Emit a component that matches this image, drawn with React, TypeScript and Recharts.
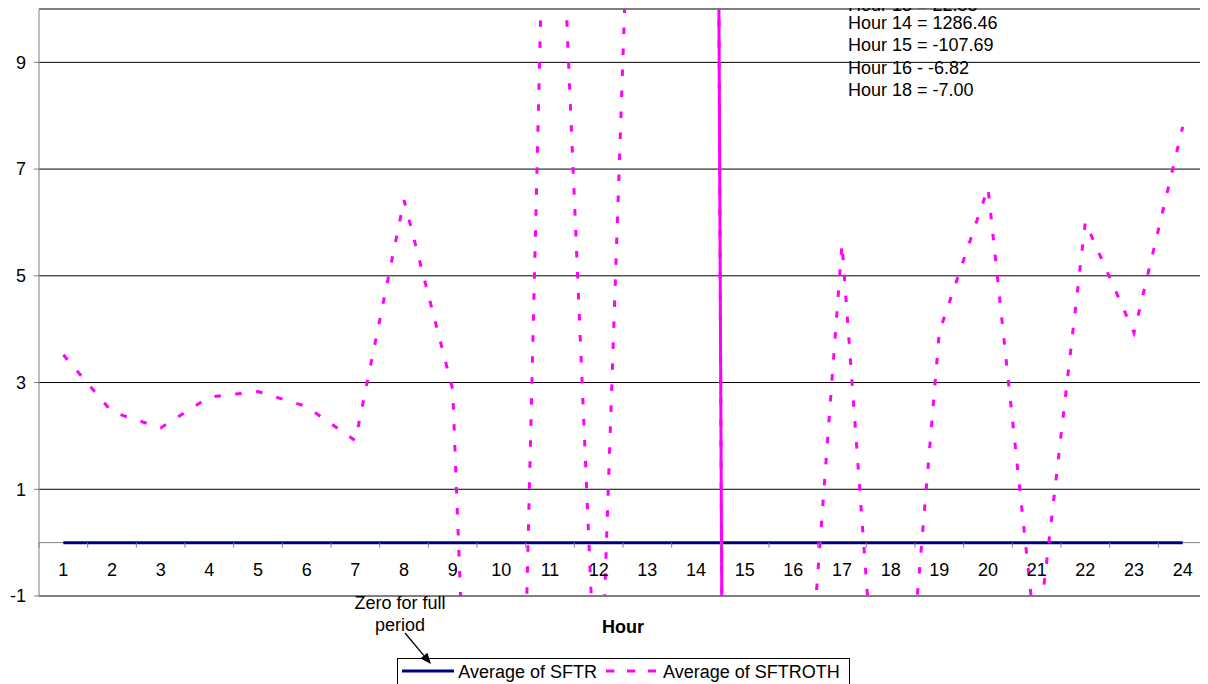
import React from 'react';
import { LineChart, Line, XAxis, YAxis, CartesianGrid, ReferenceLine, Legend } from 'recharts';

// ---------- data ----------
const HOURS = [1, 2, 3, 4, 5, 6, 7, 8, 9, 10, 11, 12, 13, 14, 15, 16, 17, 18, 19, 20, 21, 22, 23, 24];
const SFTR = [0, 0, 0, 0, 0, 0, 0, 0, 0, 0, 0, 0, 0, 0, 0, 0, 0, 0, 0, 0, 0, 0, 0, 0];
const SFTROTH = [
  3.52, 2.45, 2.15, 2.73, 2.83, 2.55, 1.91, 6.42, 2.87, -21.0, 17.2, -4.3,
  22.55, 1286.46, -107.69, -6.82, 5.6, -7.0, 3.95, 6.65, -2.0, 6.01, 3.93, 7.79,
];
const SOLID_HOURS = [14, 15];
const Y_TICKS = [-1, 1, 3, 5, 7, 9];
const Y_MIN = -1;
const Y_MAX = 10;
const SERIES_NAMES = ['Average of SFTR', 'Average of SFTROTH'];
const NOTE_HOURS = [13, 14, 15, 16, 18];
const NOTE_SEPARATORS = ['=', '=', '=', '-', '='];
const CALLOUT_LINES = ['Zero for full', 'period'];
const X_TITLE = 'Hour';

const DATA = HOURS.map((h, i) => ({ hour: h, sftr: SFTR[i], sftroth: SFTROTH[i] }));

// ---------- layout ----------
const FONT = '"Liberation Sans", Arial, Helvetica, sans-serif';
const CHART_W = 1200;
const CHART_H = 676;
const MARGIN = { top: 1, right: 1, bottom: 58, left: 0 };
const Y_AXIS_W = 31;
const X_AXIS_H = 30;
const PLOT_W = CHART_W - MARGIN.left - MARGIN.right - Y_AXIS_W;
const PLOT_H = CHART_H - MARGIN.top - MARGIN.bottom - X_AXIS_H;
const PLOT_TOP = MARGIN.top;
const PLOT_MID = PLOT_TOP + PLOT_H / 2;
const ZERO_Y = PLOT_TOP + (PLOT_H * (Y_MAX - 0)) / (Y_MAX - Y_MIN);
const BAND = PLOT_W / HOURS.length;
const PIXEL_LIMIT = 5000; // spreadsheet-style clamp of far off-scale points

const MAGENTA = '#FF00FF';
const NAVY = '#000080';
const CHART_DASH = '6.5 14.5';
const LEGEND_DASH = '8.3 12.7';

// linear curve whose points are clamped far outside the plot (as the spreadsheet renderer does)
const clampedLinear = (context: any) => {
  let first = true;
  const lo = PLOT_MID - PIXEL_LIMIT;
  const hi = PLOT_MID + PIXEL_LIMIT;
  return {
    areaStart() {},
    areaEnd() {},
    lineStart() {
      first = true;
    },
    lineEnd() {},
    point(x: number, y: number) {
      const cy = Math.max(lo, Math.min(hi, y));
      if (first) {
        context.moveTo(x, cy);
        first = false;
      } else {
        context.lineTo(x, cy);
      }
    },
  };
};

const solidSegment = (d: any) => (SOLID_HOURS.includes(d.hour) ? d.sftroth : null);

const HourTick = (props: any) => {
  const { x, payload, index } = props;
  const half = BAND / 2;
  return (
    <g>
      <line x1={x - half} x2={x - half} y1={ZERO_Y} y2={ZERO_Y + 5} stroke="#808080" strokeWidth={1} />
      {index === HOURS.length - 1 && (
        <line x1={x + half} x2={x + half} y1={ZERO_Y} y2={ZERO_Y + 5} stroke="#808080" strokeWidth={1} />
      )}
      <text x={x} y={ZERO_Y + 33} textAnchor="middle" fill="#000" fontSize={18} fontFamily={FONT}>
        {payload.value}
      </text>
    </g>
  );
};

const LegendBox = (props: any) => {
  const items = (props.payload || []).filter((e: any) => e.type !== 'none');
  return (
    <div
      style={{
        width: 453,
        height: 27,
        boxSizing: 'border-box',
        border: '1px solid #000',
        borderBottom: 'none',
        background: '#fff',
        display: 'flex',
        alignItems: 'flex-start',
        paddingTop: 2.4,
        paddingLeft: 4,
        fontFamily: FONT,
        fontSize: 18,
        color: '#000',
      }}
    >
      {items.map((e: any, i: number) => {
        const dashed = i === 1;
        return (
          <div key={i} style={{ display: 'flex', alignItems: 'flex-start', marginLeft: i === 0 ? 0 : 9.4 }}>
            <svg width={dashed ? 50 : 52} height={20} style={{ display: 'block' }}>
              <line
                x1={0}
                x2={dashed ? 50 : 52}
                y1={9}
                y2={9}
                stroke={e.color}
                strokeWidth={3}
                strokeDasharray={dashed ? LEGEND_DASH : undefined}
              />
            </svg>
            <span style={{ marginLeft: dashed ? 6.6 : 4.6, lineHeight: '20px', whiteSpace: 'nowrap' }}>{e.value}</span>
          </div>
        );
      })}
    </div>
  );
};

// arrow geometry (annotation)
const ARROW_START = { x: 397, y: 625 };
const ARROW_TIP = { x: 423, y: 656 };
const arrowParts = () => {
  const dx = ARROW_TIP.x - ARROW_START.x;
  const dy = ARROW_TIP.y - ARROW_START.y;
  const len = Math.hypot(dx, dy);
  const ux = dx / len;
  const uy = dy / len;
  const headLen = 11;
  const halfW = 4.5;
  const bx = ARROW_TIP.x - ux * headLen;
  const by = ARROW_TIP.y - uy * headLen;
  const px = -uy * halfW;
  const py = ux * halfW;
  return {
    bx,
    by,
    pts: `${ARROW_TIP.x},${ARROW_TIP.y} ${bx + px},${by + py} ${bx - px},${by - py}`,
  };
};

export default function App() {
  const arrow = arrowParts();
  return (
    <div style={{ position: 'relative', width: CHART_W, height: CHART_H, fontFamily: FONT, overflow: 'visible' }}>
      <LineChart width={CHART_W} height={CHART_H} data={DATA} margin={MARGIN}>
        <CartesianGrid horizontal vertical={false} stroke="#000" strokeWidth={1} />
        <XAxis
          dataKey="hour"
          type="category"
          height={X_AXIS_H}
          padding={{ left: BAND / 2, right: BAND / 2 }}
          axisLine={false}
          tickLine={false}
          tickSize={0}
          tickMargin={0}
          interval={0}
          tick={<HourTick />}
          label={{
            value: X_TITLE,
            position: 'insideTop',
            offset: 24,
            fill: '#000',
            fontSize: 18,
            fontWeight: 'bold',
            fontFamily: FONT,
          }}
        />
        <YAxis
          type="number"
          domain={[Y_MIN, Y_MAX]}
          ticks={Y_TICKS}
          allowDataOverflow
          interval={0}
          width={Y_AXIS_W}
          axisLine={{ stroke: '#808080' }}
          tickLine={{ stroke: '#808080' }}
          tickSize={5}
          tickMargin={8}
          tick={{ fill: '#000', fontSize: 18, fontFamily: FONT }}
        />
        <ReferenceLine y={0} stroke="#808080" strokeWidth={1} />
        <Line
          dataKey="sftr"
          name={SERIES_NAMES[0]}
          stroke={NAVY}
          strokeWidth={3}
          type={clampedLinear as any}
          dot={false}
          activeDot={false}
          isAnimationActive={false}
        />
        <Line
          dataKey="sftroth"
          name={SERIES_NAMES[1]}
          stroke={MAGENTA}
          strokeWidth={3}
          strokeDasharray={CHART_DASH}
          type={clampedLinear as any}
          dot={false}
          activeDot={false}
          isAnimationActive={false}
        />
        <Line
          dataKey={solidSegment}
          name="solid"
          legendType="none"
          stroke={MAGENTA}
          strokeWidth={3}
          type={clampedLinear as any}
          dot={false}
          activeDot={false}
          isAnimationActive={false}
        />
        <Legend
          layout="horizontal"
          verticalAlign="middle"
          align="center"
          content={<LegendBox />}
          wrapperStyle={{ left: 388.7, top: 650.3, width: 453, height: 27 }}
        />
      </LineChart>

      {/* off-scale value notes */}
      <div
        style={{
          position: 'absolute',
          left: 840,
          top: -18.2,
          zIndex: 10,
          fontSize: 18,
          lineHeight: '22.3px',
          color: '#000',
          whiteSpace: 'nowrap',
          pointerEvents: 'none',
        }}
      >
        {NOTE_HOURS.map((h, i) => (
          <div key={h} style={i === 0 ? { position: 'relative', top: 4 } : undefined}>
            {`Hour ${h} ${NOTE_SEPARATORS[i]} ${SFTROTH[h - 1].toFixed(2)}`}
          </div>
        ))}
      </div>

      {/* callout */}
      <div
        style={{
          position: 'absolute',
          left: 332,
          width: 120,
          top: 585,
          fontSize: 18,
          lineHeight: '21.5px',
          textAlign: 'center',
          color: '#000',
          pointerEvents: 'none',
        }}
      >
        {CALLOUT_LINES.map((t) => (
          <div key={t}>{t}</div>
        ))}
      </div>
      <svg
        width={CHART_W}
        height={CHART_H}
        style={{ position: 'absolute', left: 0, top: 0, pointerEvents: 'none', overflow: 'visible' }}
      >
        <line x1={ARROW_START.x} y1={ARROW_START.y} x2={arrow.bx} y2={arrow.by} stroke="#000" strokeWidth={1.3} />
        <polygon points={arrow.pts} fill="#000" />
      </svg>
    </div>
  );
}
